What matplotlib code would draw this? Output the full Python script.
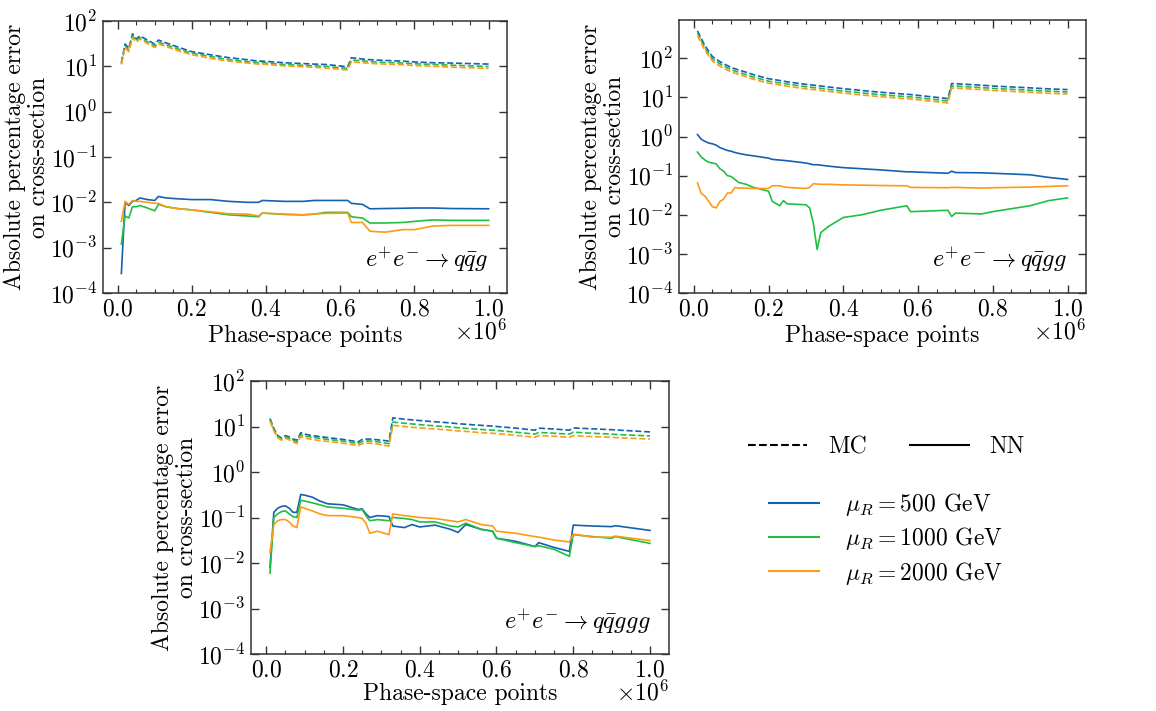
import matplotlib
matplotlib.use("Agg")
import matplotlib.pyplot as plt
import numpy as np
from matplotlib.lines import Line2D
from matplotlib.ticker import MultipleLocator, LogLocator, NullLocator

plt.rcParams['font.family'] = 'serif'
plt.rcParams['font.serif'] = ['cmr10']
plt.rcParams['mathtext.fontset'] = 'cm'
plt.rcParams['axes.formatter.use_mathtext'] = True
plt.rcParams['axes.unicode_minus'] = False

# colours of the three renormalisation scales
c_500 = '#1560b0'
c_1000 = '#1fbf45'
c_2000 = '#ff9a14'
scale_labels = [r'$\mu_R = 500$ GeV', r'$\mu_R = 1000$ GeV', r'$\mu_R = 2000$ GeV']

# ---- e+e- -> q qbar g ----
x1 = [0.01, 0.02, 0.03, 0.04, 0.05, 0.06, 0.08, 0.10, 0.11, 0.13, 0.16, 0.20, 0.25, 0.30, 0.35, 0.38,
      0.39, 0.45, 0.50, 0.53, 0.56, 0.62, 0.63, 0.66, 0.68, 0.72, 0.77, 0.80, 0.85, 0.90, 1.00]
mc1_500 = [12, 31, 25, 52, 40, 47, 38, 31, 38, 33, 27, 21, 18, 15.5, 14, 13,
           13, 12, 11.5, 11.2, 11, 9.8, 15.5, 14.5, 14, 13.5, 13, 12.5, 12, 11.8, 11.2]
mc1_1000 = [11.5, 28, 23, 47, 37, 43, 35, 28, 34, 30, 24.5, 19.5, 16.5, 14, 12.7, 12,
            12, 11, 10.5, 10.2, 10, 9.0, 13.8, 13.2, 12.7, 12.2, 11.8, 11.4, 11, 10.6, 9.9]
mc1_2000 = [11, 26, 21, 43, 34, 40, 32, 26, 31, 27.5, 22.5, 18, 15, 13, 11.8, 11.2,
            11.2, 10.2, 9.8, 9.5, 9.2, 8.3, 12.6, 12, 11.6, 11.2, 10.8, 10.4, 10, 9.6, 9.0]
nn1_500 = [2.7e-4, 1.0e-2, 8.5e-3, 1.05e-2, 1.1e-2, 1.25e-2, 1.15e-2, 1.1e-2, 1.35e-2, 1.25e-2, 1.2e-2,
           1.15e-2, 1.15e-2, 1.05e-2, 1.0e-2, 1.0e-2, 1.1e-2, 1.05e-2, 1.05e-2, 1.1e-2, 1.1e-2, 1.1e-2,
           9.5e-3, 9.0e-3, 7.2e-3, 7.3e-3, 7.4e-3, 7.5e-3, 7.5e-3, 7.3e-3, 7.2e-3]
nn1_1000 = [1.2e-3, 5e-3, 4.5e-3, 8e-3, 8e-3, 8.5e-3, 7.5e-3, 6.5e-3, 9e-3, 8e-3, 7.3e-3,
            6.8e-3, 6e-3, 5.3e-3, 5e-3, 4.8e-3, 5.8e-3, 5.4e-3, 5.3e-3, 5.5e-3, 6e-3, 6e-3,
            4.8e-3, 4.5e-3, 3.5e-3, 3.5e-3, 3.6e-3, 3.8e-3, 4.1e-3, 4.0e-3, 4.0e-3]
nn1_2000 = [3.8e-3, 1.05e-2, 9e-3, 1.1e-2, 1.05e-2, 1.05e-2, 1.0e-2, 9.5e-3, 9.5e-3, 8e-3, 7.3e-3,
            6.8e-3, 6.2e-3, 5.6e-3, 5.5e-3, 5e-3, 5.8e-3, 5.5e-3, 5.3e-3, 5.5e-3, 5.7e-3, 5.8e-3,
            3.6e-3, 3.6e-3, 2.3e-3, 2.2e-3, 2.5e-3, 2.5e-3, 3.0e-3, 3.1e-3, 3.1e-3]

# ---- e+e- -> q qbar g g ----
x2 = [0.01, 0.02, 0.03, 0.04, 0.05, 0.06, 0.07, 0.08, 0.09, 0.10, 0.11, 0.12, 0.14, 0.16, 0.20, 0.21,
      0.23, 0.24, 0.25, 0.30, 0.31, 0.32, 0.33, 0.34, 0.36, 0.40, 0.45, 0.50, 0.57, 0.58, 0.68, 0.69,
      0.70, 0.77, 0.80, 0.90, 0.95, 1.00]
mc2_500 = [500, 320, 210, 150, 110, 95, 82, 72, 65, 58, 54, 50, 44, 38, 30, 29,
           27, 26, 25, 21.5, 21, 20.5, 20, 19.5, 18.5, 16.7, 15, 13.5, 12, 11.8, 9.3, 22.5,
           22.3, 20.5, 19.5, 17.5, 16.5, 15.8]
mc2_1000 = [440, 280, 185, 130, 96, 83, 72, 63, 57, 51, 47, 44, 38, 33, 26, 25,
            23.5, 22.6, 22, 18.7, 18.3, 17.8, 17.4, 17, 16, 14.5, 13, 11.7, 10.4, 10.3, 8.1, 19.5,
            19.4, 17.8, 17, 15.2, 14.4, 13.7]
mc2_2000 = [380, 245, 160, 115, 85, 73, 63, 55, 50, 45, 41.5, 38.5, 34, 29, 23, 22.3,
            20.8, 20, 19.3, 16.5, 16.2, 15.8, 15.4, 15, 14.2, 12.9, 11.5, 10.4, 9.2, 9.1, 7.2, 17.3,
            17.2, 15.8, 15, 13.5, 12.7, 12.2]
nn2_500 = [1.12, 0.85, 0.75, 0.68, 0.65, 0.6, 0.52, 0.48, 0.44, 0.42, 0.39, 0.37, 0.34, 0.32, 0.28, 0.26,
           0.25, 0.245, 0.24, 0.21, 0.2, 0.19, 0.19, 0.185, 0.175, 0.16, 0.15, 0.14, 0.125, 0.125, 0.115, 0.13,
           0.12, 0.118, 0.115, 0.105, 0.09, 0.08]
nn2_1000 = [0.40, 0.3, 0.25, 0.22, 0.21, 0.2, 0.15, 0.13, 0.10, 0.095, 0.08, 0.067, 0.06, 0.05, 0.04, 0.022,
            0.017, 0.023, 0.019, 0.018, 0.015, 0.006, 0.0013, 0.0035, 0.005, 0.0085, 0.01, 0.013, 0.017, 0.012,
            0.013, 0.009, 0.011, 0.0105, 0.012, 0.017, 0.023, 0.027]
nn2_2000 = [0.065, 0.035, 0.03, 0.022, 0.016, 0.015, 0.022, 0.025, 0.036, 0.036, 0.05, 0.048, 0.048, 0.047,
            0.047, 0.055, 0.055, 0.052, 0.05, 0.047, 0.05, 0.062, 0.061, 0.06, 0.06, 0.058, 0.057, 0.056,
            0.055, 0.05, 0.049, 0.05, 0.05, 0.048, 0.049, 0.051, 0.053, 0.055]

# ---- e+e- -> q qbar g g g ----
x3 = [0.01, 0.02, 0.03, 0.04, 0.05, 0.06, 0.07, 0.08, 0.09, 0.10, 0.12, 0.14, 0.16, 0.20, 0.24, 0.25,
      0.26, 0.27, 0.29, 0.32, 0.33, 0.36, 0.38, 0.40, 0.44, 0.48, 0.50, 0.52, 0.56, 0.59, 0.60, 0.65,
      0.70, 0.71, 0.75, 0.79, 0.80, 0.85, 0.90, 0.91, 1.00]
mc3_500 = [15, 9, 6.3, 5.6, 6.3, 5.9, 5.3, 5.0, 7.3, 6.8, 6.3, 6.0, 5.7, 5.2, 4.6, 5.2,
           5.3, 5.3, 5.1, 4.8, 15.5, 14.5, 14, 13.5, 12.7, 12, 11.5, 11.2, 10.6, 10.2, 10, 9.2,
           8.3, 9.2, 8.8, 8.3, 9.3, 8.9, 8.5, 8.4, 7.6]
mc3_1000 = [14, 8.5, 6, 5.3, 5.9, 5.5, 5.0, 4.6, 6.6, 6.2, 5.8, 5.5, 5.2, 4.8, 4.2, 4.7,
            4.8, 4.8, 4.6, 4.2, 12.5, 11.8, 11.4, 11, 10.3, 9.8, 9.4, 9.1, 8.6, 8.3, 8.2, 7.5,
            6.8, 7.4, 7.1, 6.8, 7.5, 7.1, 6.8, 6.7, 6.2]
mc3_2000 = [13, 8, 5.7, 5.0, 5.5, 5.1, 4.6, 4.2, 6.0, 5.6, 5.2, 4.9, 4.7, 4.3, 3.8, 4.2,
            4.3, 4.3, 4.1, 3.7, 10.6, 10, 9.6, 9.3, 8.8, 8.3, 8.0, 7.8, 7.3, 7.1, 7.0, 6.4,
            5.8, 6.3, 6.1, 5.8, 6.3, 6.0, 5.8, 5.7, 5.3]
nn3_500 = [0.008, 0.13, 0.16, 0.175, 0.18, 0.16, 0.13, 0.13, 0.32, 0.31, 0.28, 0.23, 0.2, 0.19, 0.15, 0.155,
           0.12, 0.1, 0.11, 0.105, 0.065, 0.06, 0.07, 0.062, 0.068, 0.055, 0.047, 0.07, 0.055, 0.05, 0.035,
           0.03, 0.023, 0.028, 0.022, 0.018, 0.068, 0.065, 0.063, 0.066, 0.052]
nn3_1000 = [0.006, 0.1, 0.12, 0.135, 0.14, 0.12, 0.105, 0.1, 0.24, 0.23, 0.21, 0.19, 0.17, 0.16, 0.145, 0.15,
            0.11, 0.085, 0.09, 0.085, 0.1, 0.095, 0.09, 0.08, 0.08, 0.065, 0.062, 0.075, 0.055, 0.05, 0.035,
            0.028, 0.023, 0.024, 0.02, 0.014, 0.042, 0.038, 0.035, 0.038, 0.027]
nn3_2000 = [0.017, 0.07, 0.085, 0.09, 0.09, 0.08, 0.065, 0.06, 0.17, 0.16, 0.14, 0.12, 0.11, 0.11, 0.1, 0.095,
            0.075, 0.045, 0.05, 0.042, 0.12, 0.11, 0.105, 0.1, 0.095, 0.085, 0.08, 0.09, 0.07, 0.065, 0.05,
            0.045, 0.038, 0.037, 0.032, 0.029, 0.043, 0.037, 0.037, 0.039, 0.031]

panels = [
    (x1, [mc1_500, mc1_1000, mc1_2000], [nn1_500, nn1_1000, nn1_2000], r'$e^{+}e^{-}\rightarrow q\bar{q}g$'),
    (x2, [mc2_500, mc2_1000, mc2_2000], [nn2_500, nn2_1000, nn2_2000], r'$e^{+}e^{-}\rightarrow q\bar{q}gg$'),
    (x3, [mc3_500, mc3_1000, mc3_2000], [nn3_500, nn3_1000, nn3_2000], r'$e^{+}e^{-}\rightarrow q\bar{q}ggg$'),
]
colors = [c_500, c_1000, c_2000]

FS = 17
W, H = 1156, 711
fig = plt.figure(figsize=(W / 100, H / 100), dpi=100)
# axes boxes in pixels: left, top, right, bottom
boxes = [(103, 21, 507, 293), (679, 20, 1086, 293), (251, 381, 669, 654)]
text_pos = [(0.955, 0.12), (0.953, 0.12), (0.957, 0.114)]
ytops = [1e2, 9.5e2, 1e2]
xlabel_pads = [3, 3, 1]

for (xs, mcs, nns, proc), (l, t, r, b), (tx, ty), ytop, lp in zip(panels, boxes, text_pos, ytops,
                                                                    xlabel_pads):
    ax = fig.add_axes([l / W, 1 - b / H, (r - l) / W, (b - t) / H])
    xv = np.array(xs) * 1e6
    for mc, nn, col in zip(mcs, nns, colors):
        ax.plot(xv, mc, color=col, ls='--', lw=1.2)
        ax.plot(xv, nn, color=col, ls='-', lw=1.2)
    ax.set_yscale('log')
    ax.set_ylim(1e-4, ytop)
    ax.yaxis.set_major_locator(LogLocator(base=10, numticks=10))
    ax.yaxis.set_minor_locator(NullLocator())
    ax.xaxis.set_major_locator(MultipleLocator(200000))
    ax.xaxis.set_minor_locator(MultipleLocator(50000))
    ax.tick_params(which='both', direction='in', top=True, right=True, labelsize=FS, colors='0.2',
                   labelcolor='black')
    ax.tick_params(which='major', length=6, width=1, pad=4)
    ax.tick_params(which='minor', length=3, width=0.8)
    for sp in ax.spines.values():
        sp.set_color('0.2')
        sp.set_linewidth(1.1)
    ax.set_xlabel('Phase-space points', fontsize=FS, labelpad=lp)
    ax.set_ylabel('Absolute percentage error\non cross-section', fontsize=FS, linespacing=1.1,
                  labelpad=0)
    # offset text drawn by hand so it sits level with the axis label
    ax.xaxis.get_offset_text().set_visible(False)
    ax.text(1.0, -39 / (b - t), r'$\times10^{6}$', transform=ax.transAxes,
            ha='right', va='center', fontsize=FS)
    ax.text(tx, ty, proc, transform=ax.transAxes, ha='right', va='center', fontsize=17.5)

style_handles = [Line2D([], [], color='black', ls='--', lw=1.5),
                 Line2D([], [], color='black', ls='-', lw=1.5)]
fig.legend(style_handles, ['MC', 'NN'], loc='center left', bbox_to_anchor=(748 / W, 1 - 447 / H),
           ncol=2, frameon=False, fontsize=FS, handlelength=2.5, handletextpad=0.9,
           columnspacing=1.8, borderpad=0, borderaxespad=0)

scale_handles = [Line2D([], [], color=c, ls='-', lw=1.5) for c in colors]
fig.legend(scale_handles, scale_labels, loc='center left', bbox_to_anchor=(769 / W, 1 - 539 / H),
           frameon=False, fontsize=FS, handlelength=2.1, handletextpad=1.1, labelspacing=0.3,
           borderpad=0, borderaxespad=0)

fig.savefig('out.png', dpi=100)
